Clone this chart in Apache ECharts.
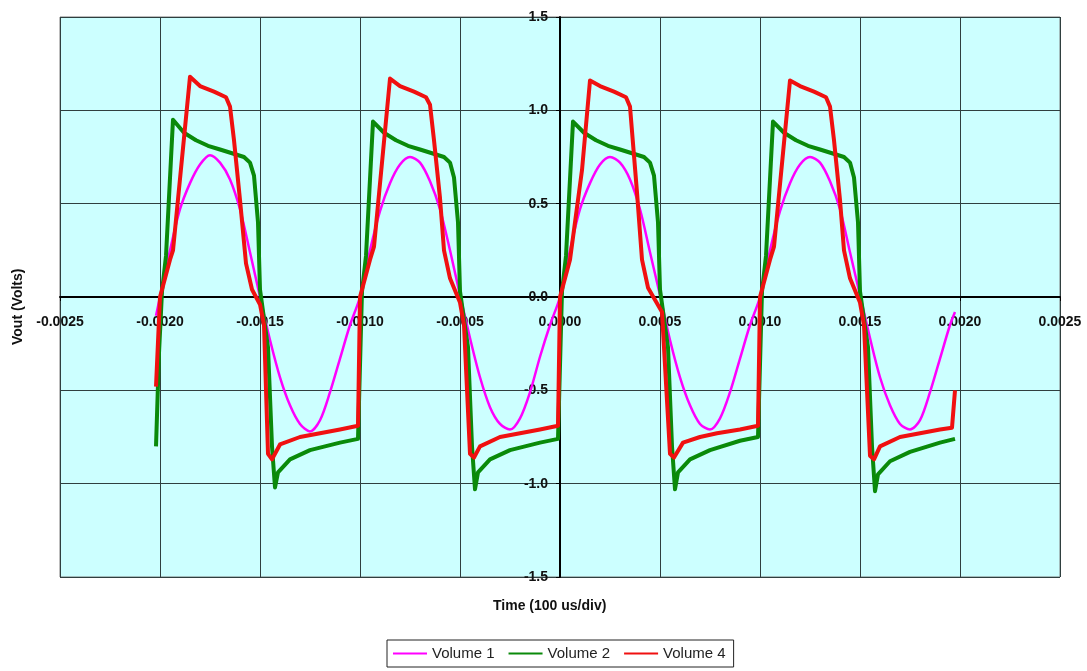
<!DOCTYPE html>
<html>
<head>
<meta charset="utf-8">
<title>Vout vs Time</title>
<script src="https://cdn.jsdelivr.net/npm/echarts@6/dist/echarts.min.js"></script>
<style>
    html,body{margin:0;padding:0;background:#fff;}
    #chart{width:1087px;height:671px;}
</style>
</head>
<body>
<div id="chart"></div>
<script>
//刻度
var xTicks = [-0.0025, -0.0020, -0.0015, -0.0010, -0.0005, 0, 0.0005, 0.0010, 0.0015, 0.0020, 0.0025];
var yTicks = [-1.5, -1.0, -0.5, 0, 0.5, 1.0, 1.5];
var seriesNames = ['Volume 1', 'Volume 2', 'Volume 4'];

//Volume 1 [时间, 电压]
var vol1 = [
    [-0.00202,-0.10],[-0.00200,0.00],[-0.00195,0.25],[-0.00190,0.47],[-0.00185,0.61],[-0.00180,0.71],[-0.00175,0.76],[-0.00170,0.72],[-0.00165,0.63],[-0.00160,0.47],[-0.00155,0.24],
    [-0.00150,0.00],[-0.00145,-0.23],[-0.00140,-0.43],[-0.00135,-0.58],[-0.00130,-0.68],[-0.00125,-0.72],[-0.00120,-0.66],[-0.00115,-0.51],[-0.00110,-0.33],[-0.00105,-0.15],
    [-0.00100,0.00],[-0.00095,0.25],[-0.00090,0.46],[-0.00085,0.61],[-0.00080,0.71],[-0.00075,0.75],[-0.00070,0.72],[-0.00065,0.62],[-0.00060,0.47],[-0.00055,0.25],
    [-0.00050,0.01],[-0.00045,-0.22],[-0.00040,-0.43],[-0.00035,-0.59],[-0.00030,-0.68],[-0.00025,-0.71],[-0.00020,-0.65],[-0.00015,-0.51],[-0.00010,-0.32],[-0.00005,-0.15],
    [0.00000,0.00],[0.00005,0.25],[0.00010,0.47],[0.00015,0.61],[0.00020,0.71],[0.00025,0.75],[0.00030,0.72],[0.00035,0.63],[0.00040,0.47],[0.00045,0.24],
    [0.00050,0.01],[0.00055,-0.23],[0.00060,-0.43],[0.00065,-0.58],[0.00070,-0.68],[0.00075,-0.71],[0.00080,-0.65],[0.00085,-0.51],[0.00090,-0.33],[0.00095,-0.15],
    [0.00100,0.00],[0.00105,0.25],[0.00110,0.46],[0.00115,0.61],[0.00120,0.71],[0.00125,0.75],[0.00130,0.72],[0.00135,0.62],[0.00140,0.47],[0.00145,0.24],
    [0.00150,0.01],[0.00155,-0.22],[0.00160,-0.43],[0.00165,-0.58],[0.00170,-0.68],[0.00175,-0.71],[0.00180,-0.66],[0.00185,-0.51],[0.00190,-0.33],[0.00195,-0.15],[0.001975,-0.08]
];

//Volume 2
var vol2 = [
    [-0.00202,-0.80],[-0.002005,-0.30],[-0.00199,0.03],[-0.00197,0.22],[-0.001935,0.95],[-0.00188,0.88],[-0.00182,0.84],[-0.00176,0.81],[-0.00170,0.79],[-0.00164,0.77],[-0.00158,0.75],
    [-0.00155,0.72],[-0.00153,0.65],[-0.00151,0.40],[-0.00150,0.04],[-0.00146,-0.27],[-0.00144,-0.80],[-0.001425,-1.02],[-0.00141,-0.94],[-0.00135,-0.87],[-0.00125,-0.82],[-0.00110,-0.78],[-0.00101,-0.76],
    [-0.00099,0.03],[-0.00097,0.22],[-0.000935,0.94],[-0.00088,0.88],[-0.00082,0.84],[-0.00076,0.81],[-0.00070,0.79],[-0.00064,0.77],[-0.00058,0.75],
    [-0.00055,0.72],[-0.00053,0.64],[-0.00051,0.40],[-0.00050,0.03],[-0.00046,-0.27],[-0.00044,-0.80],[-0.000425,-1.03],[-0.00041,-0.94],[-0.00035,-0.87],[-0.00025,-0.82],[-0.00010,-0.78],[-0.00001,-0.76],
    [0.00001,0.03],[0.00003,0.22],[0.000065,0.94],[0.00012,0.88],[0.00018,0.84],[0.00024,0.81],[0.00030,0.79],[0.00036,0.77],[0.00042,0.75],
    [0.00045,0.72],[0.00047,0.65],[0.00049,0.40],[0.00050,0.04],[0.00054,-0.27],[0.00056,-0.80],[0.000575,-1.03],[0.00059,-0.94],[0.00065,-0.87],[0.00075,-0.82],[0.00090,-0.77],[0.00099,-0.75],
    [0.00101,0.03],[0.00103,0.22],[0.001065,0.94],[0.00112,0.88],[0.00118,0.84],[0.00124,0.81],[0.00130,0.79],[0.00136,0.77],[0.00142,0.75],
    [0.00145,0.72],[0.00147,0.64],[0.00149,0.40],[0.00150,0.03],[0.00154,-0.27],[0.00156,-0.80],[0.001575,-1.04],[0.00159,-0.95],[0.00165,-0.88],[0.00175,-0.83],[0.00190,-0.78],[0.001975,-0.76]
];

//Volume 4
var vol4 = [
    [-0.00202,-0.48],[-0.00200,0.00],[-0.00195,0.20],[-0.001935,0.25],[-0.00185,1.18],[-0.00180,1.13],[-0.00173,1.10],[-0.00167,1.07],[-0.00165,1.02],[-0.00163,0.84],[-0.00160,0.52],
    [-0.00157,0.18],[-0.00154,0.04],[-0.00150,-0.04],[-0.00148,-0.15],[-0.00146,-0.84],[-0.00144,-0.87],[-0.00140,-0.79],[-0.00130,-0.75],[-0.00120,-0.73],[-0.00110,-0.71],[-0.00101,-0.69],
    [-0.00100,0.00],[-0.00095,0.20],[-0.00093,0.27],[-0.00085,1.17],[-0.00080,1.13],[-0.00073,1.10],[-0.00067,1.07],[-0.00065,1.03],[-0.00063,0.84],[-0.00060,0.53],
    [-0.00058,0.25],[-0.00055,0.10],[-0.00050,-0.03],[-0.00048,-0.15],[-0.00045,-0.84],[-0.00043,-0.86],[-0.00040,-0.80],[-0.00030,-0.75],[-0.00020,-0.73],[-0.00010,-0.71],[-0.00001,-0.69],
    [0.00000,0.00],[0.00005,0.20],[0.00011,0.68],[0.00015,1.16],[0.00020,1.13],[0.00027,1.10],[0.00033,1.07],[0.00035,1.02],[0.000385,0.56],[0.00041,0.20],
    [0.00044,0.05],[0.00051,-0.08],[0.00055,-0.84],[0.00057,-0.86],[0.000615,-0.78],[0.00070,-0.75],[0.000785,-0.73],[0.00090,-0.71],[0.00099,-0.69],
    [0.00100,0.00],[0.00105,0.20],[0.00107,0.27],[0.00115,1.16],[0.00120,1.13],[0.00127,1.10],[0.00133,1.07],[0.00135,1.02],[0.00137,0.84],[0.00140,0.52],
    [0.00142,0.25],[0.00145,0.10],[0.00150,-0.03],[0.00152,-0.15],[0.00155,-0.85],[0.00157,-0.87],[0.00160,-0.80],[0.00170,-0.75],[0.00180,-0.73],[0.00190,-0.71],[0.00196,-0.70],[0.001975,-0.50]
];

var labelFont = "'Liberation Sans', Arial, sans-serif";

function createLine(name, data, color, width, smooth){
    this.name = name;
    this.type = 'line';
    this.data = data;
    this.symbol = 'none';
    this.showSymbol = false;
    this.smooth = smooth;
    this.animation = false;
    this.color = color;
    this.lineStyle = {
        color: color,
        width: width,
        join: 'round'
    };
}

var myChart = echarts.init(document.getElementById('chart'));
myChart.setOption({
    backgroundColor: '#fff',
    animation: false,
    grid: {
        left: 60,
        right: 27,
        top: 17,
        bottom: 94,
        show: true,
        backgroundColor: '#ccffff',
        borderColor: '#7a7a7a',
        borderWidth: 1
    },
    xAxis: {
        type: 'value',
        min: xTicks[0],
        max: xTicks[xTicks.length - 1],
        interval: 0.0005,
        axisLine: {
            onZero: true,
            lineStyle: {color: '#000', width: 2}
        },
        axisTick: {show: true, length: 4, lineStyle: {color: '#000'}},
        splitLine: {show: true, lineStyle: {color: '#2f3f3f', width: 1}},
        axisLabel: {
            //标签放到零线下方
            margin: -262,
            showMinLabel: true,
            showMaxLabel: true,
            hideOverlap: false,
            color: '#111',
            fontWeight: 'bold',
            fontSize: 14,
            fontFamily: labelFont,
            formatter: function (v) { return v.toFixed(4); }
        }
    },
    yAxis: {
        type: 'value',
        min: yTicks[0],
        max: yTicks[yTicks.length - 1],
        interval: 0.5,
        axisLine: {
            onZero: true,
            lineStyle: {color: '#000', width: 2}
        },
        axisTick: {show: true, length: 4, lineStyle: {color: '#000'}},
        splitLine: {show: true, lineStyle: {color: '#2f3f3f', width: 1}},
        axisLabel: {
            //标签放到零线左边
            margin: -488,
            showMinLabel: true,
            showMaxLabel: true,
            hideOverlap: false,
            color: '#111',
            fontWeight: 'bold',
            fontSize: 14,
            fontFamily: labelFont,
            formatter: function (v) { return v.toFixed(1); }
        }
    },
    legend: {
        data: seriesNames,
        left: 387,
        top: 640,
        orient: 'horizontal',
        icon: 'rect',
        itemWidth: 34,
        itemHeight: 2,
        itemGap: 14,
        padding: [6, 8, 6, 6],
        borderColor: '#222',
        borderWidth: 1,
        textStyle: {
            color: '#222',
            fontSize: 15,
            fontFamily: labelFont
        }
    },
    graphic: [
        {
            type: 'text',
            left: 493,
            top: 599,
            style: {
                text: 'Time (100 us/div)',
                fill: '#111',
                font: "bold 14px " + labelFont
            }
        },
        {
            type: 'text',
            x: 11,
            y: 345,
            rotation: Math.PI / 2,
            style: {
                text: 'Vout (Volts)',
                fill: '#111',
                font: "bold 14px " + labelFont
            }
        }
    ],
    series: [
        new createLine(seriesNames[0], vol1, '#ff00ff', 2.5, 0.3),
        new createLine(seriesNames[1], vol2, '#0a8a0a', 4, false),
        new createLine(seriesNames[2], vol4, '#f01010', 4, false)
    ]
});
</script>
</body>
</html>
